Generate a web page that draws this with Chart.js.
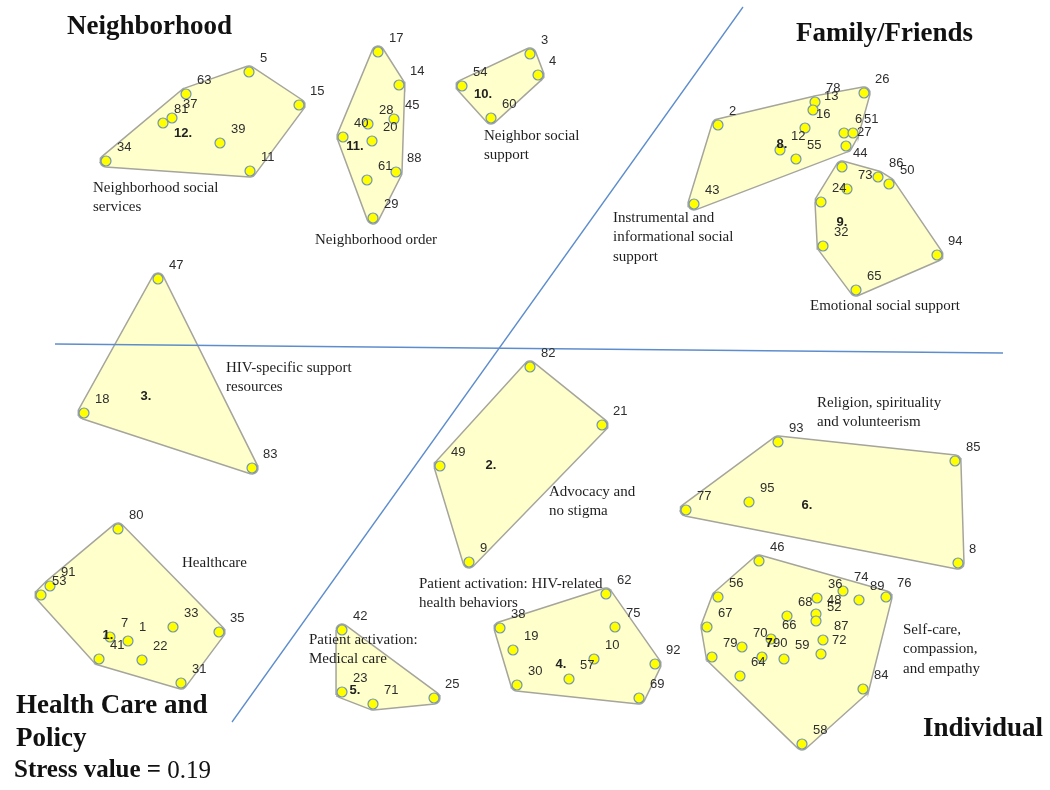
<!DOCTYPE html>
<html>
<head>
<meta charset="utf-8">
<script src="https://cdn.jsdelivr.net/npm/chart.js@4.4.1/dist/chart.umd.min.js"></script>
<style>
  html, body { margin: 0; padding: 0; background: #fff; }
  #wrap { width: 1050px; height: 790px; }
</style>
</head>
<body>
<div id="wrap"><canvas id="map" width="1050" height="790"></canvas></div>
<script>
// statement number, map coordinates and cluster of each statement
const pointIds = [
  80, 91, 53, 7, 1, 41, 22, 33, 35, 31,
  82, 21, 49, 9,
  47, 18, 83,
  62, 38, 75, 19, 10, 92, 57, 30, 69,
  42, 23, 71, 25,
  93, 85, 77, 95, 8,
  46, 56, 67, 36, 74, 89, 76, 68, 48, 52, 66, 87, 70, 79, 90, 59, 72, 64, 84, 58,
  26, 78, 13, 16, 2, 6, 51, 27, 12, 55, 43,
  44, 73, 86, 50, 24, 32, 94, 65,
  3, 4, 54, 60,
  17, 14, 45, 28, 40, 20, 88, 61, 29,
  5, 63, 37, 81, 39, 15, 11, 34,
];
const pointX = [
  118, 50, 41, 110, 128, 99, 142, 173, 219, 181,
  530, 602, 440, 469,
  158, 84, 252,
  606, 500, 615, 513, 594, 655, 569, 517, 639,
  342, 342, 373, 434,
  778, 955, 686, 749, 958,
  759, 718, 707, 817, 843, 859, 886, 787, 816, 816, 771, 823, 742, 712, 762, 784, 821, 740, 863, 802,
  864, 815, 813, 805, 718, 844, 853, 846, 780, 796, 694,
  842, 847, 878, 889, 821, 823, 937, 856,
  530, 538, 462, 491,
  378, 399, 394, 368, 343, 372, 396, 367, 373,
  249, 186, 172, 163, 220, 299, 250, 106,
];
const pointY = [
  529, 586, 595, 637, 641, 659, 660, 627, 632, 683,
  367, 425, 466, 562,
  279, 413, 468,
  594, 628, 627, 650, 659, 664, 679, 685, 698,
  630, 692, 704, 698,
  442, 461, 510, 502, 563,
  561, 597, 627, 598, 591, 600, 597, 616, 614, 621, 639, 640, 647, 657, 657, 659, 654, 676, 689, 744,
  93, 102, 110, 128, 125, 133, 133, 146, 150, 159, 204,
  167, 189, 177, 184, 202, 246, 255, 290,
  54, 75, 86, 118,
  52, 85, 119, 124, 137, 141, 172, 180, 218,
  72, 94, 118, 123, 143, 105, 171, 161,
];
const pointCluster = [
  1, 1, 1, 1, 1, 1, 1, 1, 1, 1,
  2, 2, 2, 2,
  3, 3, 3,
  4, 4, 4, 4, 4, 4, 4, 4, 4,
  5, 5, 5, 5,
  6, 6, 6, 6, 6,
  7, 7, 7, 7, 7, 7, 7, 7, 7, 7, 7, 7, 7, 7, 7, 7, 7, 7, 7, 7,
  8, 8, 8, 8, 8, 8, 8, 8, 8, 8, 8,
  9, 9, 9, 9, 9, 9, 9, 9,
  10, 10, 10, 10,
  11, 11, 11, 11, 11, 11, 11, 11, 11,
  12, 12, 12, 12, 12, 12, 12, 12,
];

const clusterNames = [
  ["Healthcare"],
  ["Advocacy and", "no stigma"],
  ["HIV-specific support", "resources"],
  ["Patient activation: HIV-related", "health behaviors"],
  ["Patient activation:", "Medical care"],
  ["Religion, spirituality", "and volunteerism"],
  ["Self-care,", "compassion,", "and empathy"],
  ["Instrumental and", "informational social", "support"],
  ["Emotional social support"],
  ["Neighbor social", "support"],
  ["Neighborhood order"],
  ["Neighborhood social", "services"],
];

const regionTitles = ["Neighborhood", "Family/Friends", "Health Care and", "Policy", "Individual"];
const stressValue = "0.19";

// the two dividing lines of the map
const dividerH = [{ x: 55, y: 344 }, { x: 1003, y: 353 }];
const dividerD = [{ x: 743, y: 7 }, { x: 232, y: 722 }];

// ---- layout of the texts (map coordinates) ----
const clusterNumberAt = [
  [108, 635], [491, 465], [146, 396], [561, 664], [355, 690], [807, 505],
  [771, 643], [782, 144], [842, 222], [483, 94], [355, 146], [183, 133],
];
const clusterNameAt = [
  [182, 563], [549, 492], [226, 368], [419, 584], [309, 640], [817, 403],
  [903, 630], [613, 218], [810, 306], [484, 136], [315, 240], [93, 188],
];
const regionTitleAt = [[67, 27], [796, 34], [16, 706], [16, 739], [923, 729]];

function convexHull(pts) {
  const p = pts.slice().sort((a, b) => a.x - b.x || a.y - b.y);
  const cross = (o, a, b) => (a.x - o.x) * (b.y - o.y) - (a.y - o.y) * (b.x - o.x);
  const lower = [];
  for (const q of p) {
    while (lower.length >= 2 && cross(lower[lower.length - 2], lower[lower.length - 1], q) <= 0) lower.pop();
    lower.push(q);
  }
  const upper = [];
  for (let i = p.length - 1; i >= 0; i--) {
    const q = p[i];
    while (upper.length >= 2 && cross(upper[upper.length - 2], upper[upper.length - 1], q) <= 0) upper.pop();
    upper.push(q);
  }
  upper.pop();
  lower.pop();
  return lower.concat(upper);
}

// hull grown by r around every statement, with round corners
function roundedHull(pts, r) {
  const h = convexHull(pts);
  const n = h.length;
  const out = [];
  for (let i = 0; i < n; i++) {
    const prev = h[(i - 1 + n) % n], cur = h[i], next = h[(i + 1) % n];
    const a0 = Math.atan2(-(cur.x - prev.x), cur.y - prev.y);
    let a1 = Math.atan2(-(next.x - cur.x), next.y - cur.y);
    while (a1 < a0) a1 += 2 * Math.PI;
    const steps = 6;
    for (let s = 0; s <= steps; s++) {
      const a = a0 + (a1 - a0) * s / steps;
      out.push({ x: cur.x + r * Math.cos(a), y: cur.y + r * Math.sin(a) });
    }
  }
  out.push(out[0]);
  return out;
}

const points = pointIds.map((id, i) => ({ x: pointX[i], y: pointY[i] }));

const hullSets = clusterNames.map((_, c) => {
  const members = points.filter((_, i) => pointCluster[i] === c + 1);
  return {
    type: "line",
    data: roundedHull(members, 6),
    borderColor: "#a5a59c",
    borderWidth: 1.5,
    backgroundColor: "#ffffcc",
    fill: "shape",
    pointRadius: 0,
    tension: 0,
    order: 2,
  };
});

const lineSets = [dividerH, dividerD].map((d) => ({
  type: "line",
  data: d,
  borderColor: "#5d8dcc",
  borderWidth: 1.3,
  pointRadius: 0,
  fill: false,
  order: 1,
}));

const SERIF = '"Liberation Serif", "Times New Roman", serif';
const SANS = '"Liberation Sans", Arial, sans-serif';

const mapText = {
  id: "mapText",
  afterDatasetsDraw(chart) {
    const { ctx } = chart;
    const sx = chart.scales.x, sy = chart.scales.y;
    const px = (v) => sx.getPixelForValue(v);
    const py = (v) => sy.getPixelForValue(v);
    ctx.save();
    ctx.textBaseline = "middle";

    // statement numbers
    ctx.font = "13px " + SANS;
    ctx.fillStyle = "#2e2e2e";
    ctx.textAlign = "left";
    pointIds.forEach((id, i) => {
      ctx.fillText(String(id), px(pointX[i]) + 11, py(pointY[i]) - 14);
    });

    // cluster numbers
    ctx.font = "bold 13px " + SANS;
    ctx.fillStyle = "#222";
    ctx.textAlign = "center";
    clusterNumberAt.forEach(([x, y], c) => ctx.fillText((c + 1) + ".", px(x), py(y)));

    // cluster names
    ctx.font = "15px " + SERIF;
    ctx.fillStyle = "#1e1e1e";
    ctx.textAlign = "left";
    clusterNames.forEach((lines, c) => {
      const [x, y] = clusterNameAt[c];
      lines.forEach((t, k) => ctx.fillText(t, px(x), py(y) + k * 19.5));
    });

    // region titles
    ctx.font = "bold 27px " + SERIF;
    ctx.fillStyle = "#111";
    regionTitles.forEach((t, k) => {
      const [x, y] = regionTitleAt[k];
      ctx.fillText(t, px(x), py(y));
    });

    // stress value
    ctx.font = "bold 25px " + SERIF;
    const lead = "Stress value = ";
    ctx.fillText(lead, px(14), py(771));
    const w = ctx.measureText(lead).width;
    ctx.font = "25px " + SERIF;
    ctx.fillText(stressValue, px(14) + w, py(771));
    ctx.restore();
  },
};

new Chart(document.getElementById("map"), {
  type: "scatter",
  data: {
    datasets: [
      {
        type: "scatter",
        data: points,
        pointRadius: 5,
        pointHoverRadius: 5,
        backgroundColor: "#ffff00",
        borderColor: "#7394b8",
        borderWidth: 1.2,
        order: 0,
      },
      ...lineSets,
      ...hullSets,
    ],
  },
  options: {
    responsive: false,
    devicePixelRatio: 1,
    animation: false,
    layout: { padding: 0, autoPadding: false },
    plugins: { legend: { display: false }, tooltip: { enabled: false } },
    scales: {
      x: { type: "linear", min: 0, max: 1050, display: false },
      y: { type: "linear", min: 0, max: 790, reverse: true, display: false },
    },
  },
  plugins: [mapText],
});
</script>
</body>
</html>
